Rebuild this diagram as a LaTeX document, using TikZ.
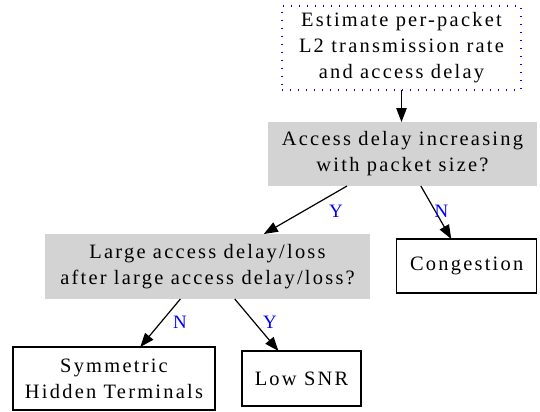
\documentclass[tikz,border=0pt]{standalone}
\usepackage{fontspec}
\setmainfont{Liberation Serif}[LetterSpace=11]
\usetikzlibrary{arrows.meta}
\definecolor{boxgray}{RGB}{211,211,211}
\tikzset{
  base/.style={inner sep=0pt, outer sep=0pt, align=center,
    font=\fontsize{20.5pt}{26.1pt}\selectfont},
  startbox/.style={base, draw=blue, line width=1.3bp,
    dash pattern=on 1.3bp off 6.7bp},
  question/.style={base, fill=boxgray},
  outcome/.style={base, draw=black, line width=1.3bp},
  flow/.style={line width=1.2bp, -{Triangle[length=14bp,width=10.5bp]}},
  lbl/.style={inner sep=0pt, text=blue, font=\fontsize{19pt}{22pt}\selectfont}
}
\begin{document}
\begin{tikzpicture}[x=1bp, y=-1bp]
  \useasboundingbox (0,0) rectangle (540,411);

  \node[startbox, minimum width=239bp, minimum height=84bp] (est) at (401.5,48)
    {Estimate per-packet\\L2 transmission rate\\and access delay};
  \node[question, minimum width=269bp, minimum height=64bp] (q1) at (402.5,154)
    {Access delay increasing\\with packet size?};
  \node[question, minimum width=325bp, minimum height=65bp] (q2) at (207.5,266.5)
    {Large access delay/loss\\after large access delay/loss?};
  \node[outcome, minimum width=140bp, minimum height=54bp] (cong) at (466.7,266)
    {Congestion};
  \node[outcome, minimum width=202bp, minimum height=63bp] (sym) at (114,378.5)
    {Symmetric\\Hidden Terminals};
  \node[outcome, minimum width=119bp, minimum height=55bp] (snr) at (301.5,378.5)
    {Low SNR};

  \draw[flow] (est.south) -- (est.south |- q1.north);
  \draw[flow] (q1) -- (q2);
  \draw[flow] (q1) -- (cong);
  \draw[flow] (q2) -- (sym);
  \draw[flow] (q2) -- (snr);

  \node[lbl] (y1) at (336,211) {Y};
  \node[lbl] (n1) at (441.5,211) {N};
  \node[lbl] (n2) at (180,322) {N};
  \node[lbl] (y2) at (270,322) {Y};
\end{tikzpicture}
\end{document}
